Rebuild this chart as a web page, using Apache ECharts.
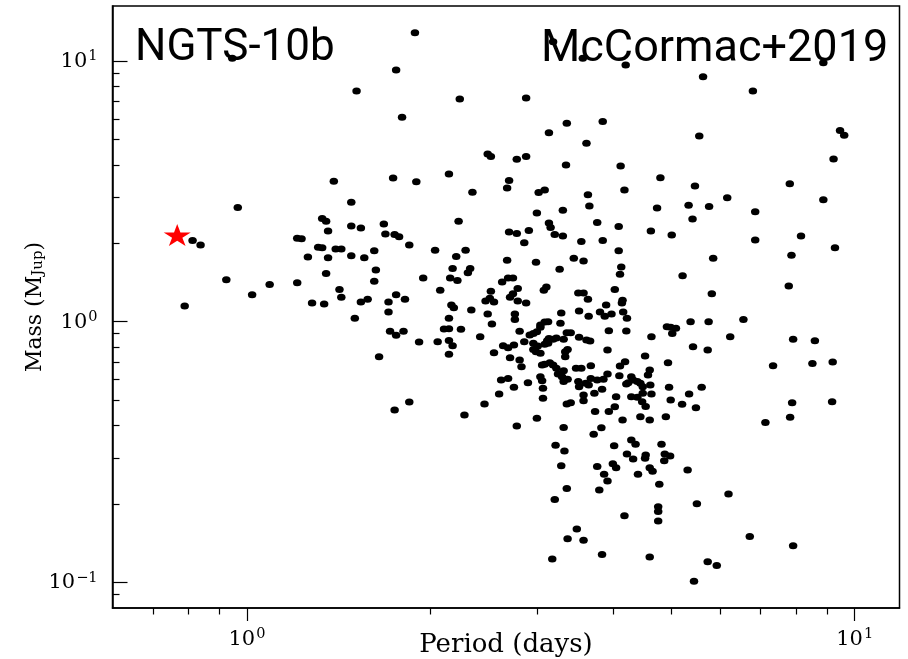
<!DOCTYPE html>
<html><head><meta charset="utf-8">
<script src="https://cdn.jsdelivr.net/npm/echarts@6/dist/echarts.min.js"></script>
<style>html,body{margin:0;padding:0;background:#fff}#c{width:908px;height:659px}</style>
</head><body><div id="c"></div>
<script>
// Orbital period (days) of each known planet
const periods = [1.89,1.76,1.515,2.24,0.946,3.19,3.57,4.20,5.63,6.80,2.88,8.88,
1.80,1.39,1.74,1.90,2.15,2.35,0.966,1.485,1.33,1.35,1.36,1.485,1.54,1.68,1.69,1.75,1.78,1.85,2.23,0.814,0.839,1.21,1.23,1.31,1.33,1.40,1.43,1.62,2.04,2.29,1.26,1.36,1.485,1.56,2.21,2.18,2.33,2.31,1.63,1.35,1.95,2.16,2.22,0.925,1.09,1.21,1.62,1.42,2.08,1.02,1.76,1.43,1.82,1.28,1.34,1.54,1.58,1.71,2.17,2.19,0.790,2.34,1.71,1.505,2.15,2.11,2.15,2.25,1.72,1.76,1.81,1.92,2.06,2.15,2.18,2.42,
1.65,2.15,1.75,1.85,2.28,
3.36,3.14,2.49,2.52,2.78,2.88,3.35,2.70,2.68,3.02,3.09,3.31,3.00,3.14,3.16,2.70,2.78,2.91,3.21,3.31,2.86,2.68,2.99,3.45,3.27,2.63,2.69,2.74,3.11,3.08,2.52,2.79,2.71,2.74,2.47,2.51,2.55,2.79,2.88,3.51,2.49,2.76,2.76,3.29,2.53,3.04,3.09,3.13,3.28,3.52,2.81,2.92,2.96,3.00,3.04,3.12,3.14,3.19,3.23,3.32,3.36,3.41,3.52,2.64,2.69,2.75,2.86,2.96,3.01,2.96,2.99,3.04,3.09,3.13,3.34,3.37,2.55,2.71,2.81,2.83,3.06,3.09,3.15,3.19,3.23,3.25,3.30,3.32,3.48,3.34,3.04,3.06,2.62,2.69,2.90,2.75,3.07,3.32,3.37,3.51,2.60,3.07,2.46,3.36,3.41,3.52,2.78,3.00,3.32,
3.85,3.62,5.55,4.12,4.79,5.46,3.64,4.18,3.66,4.73,5.33,5.76,5.41,3.77,4.09,4.62,5.00,3.55,3.85,4.09,3.58,5.85,4.13,4.11,5.21,4.03,5.82,3.58,3.64,3.90,4.14,4.15,3.65,3.81,3.88,3.98,4.16,4.22,3.94,4.21,4.63,4.91,4.98,5.08,5.01,5.37,5.75,3.62,3.67,3.92,5.42,5.73,4.52,4.19,4.11,4.93,3.55,3.68,4.60,4.57,3.92,4.10,4.29,4.32,4.39,3.68,3.77,3.86,3.61,3.65,4.21,4.24,4.44,4.48,4.61,4.95,5.60,3.73,3.84,4.05,4.29,4.39,4.48,4.63,5.34,3.58,3.58,4.47,4.53,4.98,5.20,5.48,4.03,3.94,3.74,4.44,4.15,4.60,4.89,3.83,
9.46,9.61,9.23,7.82,6.17,8.88,6.86,6.86,8.16,9.28,7.87,7.79,6.56,6.24,7.92,8.60,7.13,7.83,7.89,9.18,7.34,8.52,9.20,6.20,6.72,7.92,5.73,5.93,5.44,
3.72,3.22,3.33,3.29,3.36,3.21,4.02,4.29,4.36,4.22,4.32,4.53,4.52,4.81,4.87,4.97,4.86,3.77,3.87,3.92,3.80,4.00,4.05,4.40,4.60,4.65,4.77,5.31,5.50,4.75,4.75,4.75,4.18,3.49,3.37,3.58,3.18,3.84,4.60];
// Planet mass (Jupiter masses), same order
const masses = [12.85,9.25,7.68,7.15,10.25,11.87,10.25,9.66,8.71,7.68,7.22,9.86,
6.09,3.46,3.56,3.44,3.69,3.14,2.74,2.87,2.49,2.43,2.23,2.33,2.29,2.37,2.17,2.16,2.12,1.97,2.43,2.05,1.97,2.09,2.08,1.93,1.92,1.90,1.90,1.87,1.88,1.88,1.77,1.76,1.79,1.76,1.78,1.60,1.60,1.54,1.58,1.53,1.47,1.47,1.44,1.45,1.39,1.41,1.43,1.33,1.32,1.27,1.27,1.24,1.22,1.18,1.17,1.19,1.22,1.19,1.16,1.13,1.15,1.11,1.09,1.03,1.03,0.937,0.94,0.935,0.92,0.887,0.92,0.836,0.838,0.847,0.809,0.876,
0.734,0.750,0.458,0.492,0.439,
5.77,5.31,4.40,4.30,4.20,4.30,3.99,3.48,3.26,3.13,3.20,2.68,2.61,2.39,2.30,2.21,2.18,2.24,2.16,2.13,2.01,1.72,1.69,1.75,1.59,1.42,1.47,1.47,1.36,1.32,1.31,1.34,1.24,1.28,1.20,1.23,1.19,1.20,1.18,1.29,1.07,1.07,1.02,1.08,0.98,0.971,0.997,1.00,0.986,1.10,0.919,0.889,0.902,0.915,0.952,0.845,0.863,0.856,0.866,0.856,0.907,0.907,0.871,0.809,0.795,0.814,0.838,0.826,0.807,0.783,0.767,0.756,0.819,0.826,0.767,0.783,0.760,0.727,0.713,0.672,0.682,0.686,0.696,0.682,0.663,0.630,0.615,0.649,0.663,0.734,0.615,0.594,0.597,0.605,0.583,0.560,0.555,0.589,0.601,0.589,0.528,0.508,0.483,0.483,0.489,0.563,0.398,0.426,0.393,
5.86,4.84,5.16,3.96,3.57,3.32,3.07,3.20,2.78,2.73,2.80,2.77,2.48,2.40,2.32,2.23,2.15,2.03,2.05,1.87,1.71,1.75,1.62,1.52,1.50,1.33,1.28,1.29,1.22,1.16,1.18,1.21,1.05,1.09,1.05,1.07,1.09,1.03,0.924,0.921,0.876,0.957,0.952,0.943,0.902,1.00,1.00,0.851,0.843,0.779,0.802,0.779,0.738,0.702,0.676,0.696,0.663,0.678,0.653,0.624,0.630,0.621,0.615,0.597,0.589,0.606,0.597,0.601,0.580,0.572,0.577,0.583,0.580,0.563,0.572,0.560,0.560,0.531,0.550,0.515,0.515,0.513,0.531,0.528,0.528,0.523,0.497,0.493,0.473,0.501,0.482,0.468,0.472,0.452,0.452,0.432,0.420,0.420,0.432,0.392,
5.41,5.19,4.21,3.38,2.99,2.94,2.64,2.06,2.13,1.92,1.80,1.37,1.02,0.876,0.856,0.845,0.410,0.430,0.489,0.493,0.678,0.692,0.700,0.218,0.150,0.138,0.120,0.116,0.101,
0.370,0.336,0.319,0.280,0.229,0.208,0.334,0.352,0.339,0.311,0.297,0.308,0.299,0.339,0.311,0.305,0.293,0.278,0.260,0.245,0.226,0.285,0.275,0.260,0.275,0.267,0.238,0.270,0.200,0.195,0.187,0.172,0.180,0.160,0.147,0.145,0.123,0.128,0.125];
// Highlighted planet NGTS-10b
const targetName = 'NGTS-10b';
const targetPeriod = [0.768];
const targetMass = [2.15];
const creditText = 'McCormac+2019';
// Axis ranges and ticks
const xRange = [0.601, 11.85];
const yRange = [0.0797, 16.27];
const xMajorTicks = [1, 10];
const xMinorTicks = [0.7, 0.8, 0.9, 2, 3, 4, 5, 6, 7, 8, 9];
const yMajorTicks = [0.1, 1, 10];
const yMinorTicks = [0.09, 0.2, 0.3, 0.4, 0.5, 0.6, 0.7, 0.8, 0.9, 2, 3, 4, 5, 6, 7, 8, 9];
const xTitle = 'Period (days)';
const yTitle = ['Mass (M', 'Jup', ')'];

const serif = '"DejaVu Serif", serif';
function powLabel(v) {
  const e = Math.round(Math.log10(v));
  const s = e < 0 ? '\u2212' + (-e) : String(e);
  return '{b|10}{s|' + s + '}';
}
const labelRich = {
  b: { fontFamily: serif, fontSize: 21, color: '#000', verticalAlign: 'bottom', lineHeight: 22 },
  s: { fontFamily: serif, fontSize: 14.5, color: '#000', verticalAlign: 'bottom', padding: [0, 0, 8, 1], lineHeight: 15 }
};

const chart = echarts.init(document.getElementById('c'), null, { renderer: 'canvas' });
const pts = periods.map((p, i) => [p, masses[i]]);
const starPath = 'path://M0,-1L0.2245,-0.309L0.951,-0.309L0.363,0.118L0.588,0.809L0,0.382L-0.588,0.809L-0.363,0.118L-0.951,-0.309L-0.2245,-0.309Z';

const baseX = { type: 'log', logBase: 10, min: xRange[0], max: xRange[1], gridIndex: 0, position: 'bottom', splitLine: { show: false }, minorTick: { show: false }, minorSplitLine: { show: false }, nameMoveOverlap: false };
const baseY = { type: 'log', logBase: 10, min: yRange[0], max: yRange[1], gridIndex: 0, position: 'left', splitLine: { show: false }, minorTick: { show: false }, minorSplitLine: { show: false }, nameMoveOverlap: false };

chart.setOption({
  animation: false,
  backgroundColor: '#fff',
  grid: { left: 112.5, right: 8.5, top: 6, bottom: 51, show: true, borderColor: '#000', borderWidth: 1.5, backgroundColor: 'transparent', containLabel: false, outerBoundsMode: 'none' },
  xAxis: [
    Object.assign({}, baseX, {
      axisLine: { show: true, lineStyle: { color: '#000', width: 1.5 } },
      axisTick: { show: true, inside: false, length: 13, customValues: xMajorTicks, lineStyle: { color: '#000', width: 1.2 } },
      axisLabel: { show: true, customValues: xMajorTicks, formatter: powLabel, rich: labelRich, margin: 20 },
      name: xTitle, nameLocation: 'middle', nameGap: 24,
      nameTextStyle: { fontFamily: serif, fontSize: 26, color: '#000', verticalAlign: 'top' }
    }),
    Object.assign({}, baseX, {
      axisLine: { show: false },
      axisTick: { show: true, inside: false, length: 6.5, customValues: xMinorTicks, lineStyle: { color: '#000', width: 1.2 } },
      axisLabel: { show: false }
    })
  ],
  yAxis: [
    Object.assign({}, baseY, {
      axisLine: { show: true, lineStyle: { color: '#000', width: 1.5 } },
      axisTick: { show: true, inside: true, length: 15, customValues: yMajorTicks, lineStyle: { color: '#000', width: 1.2 } },
      axisLabel: { show: true, customValues: yMajorTicks, formatter: powLabel, rich: labelRich, margin: 15 },
      name: '{a|' + yTitle[0] + '}{sub|' + yTitle[1] + '}{a|' + yTitle[2] + '}',
      nameLocation: 'middle', nameGap: 62, nameRotate: 90,
      nameTextStyle: { rich: {
        a: { fontFamily: serif, fontSize: 22, color: '#000', verticalAlign: 'top', lineHeight: 26 },
        sub: { fontFamily: serif, fontSize: 15, color: '#000', verticalAlign: 'top', lineHeight: 26, padding: [6, 0, 0, 0] }
      } }
    }),
    Object.assign({}, baseY, {
      axisLine: { show: false },
      axisTick: { show: true, inside: true, length: 7, customValues: yMinorTicks, lineStyle: { color: '#000', width: 1.2 } },
      axisLabel: { show: false }
    })
  ],
  series: [
    { type: 'scatter', xAxisIndex: 0, yAxisIndex: 0, data: pts, symbol: 'circle', symbolSize: [8.5, 7], itemStyle: { color: '#000', opacity: 1 }, silent: true, z: 3 },
    { type: 'scatter', xAxisIndex: 0, yAxisIndex: 0, data: targetPeriod.map((p, i) => [p, targetMass[i]]), symbol: starPath, symbolSize: [27, 22], itemStyle: { color: '#ff0000', opacity: 1 }, silent: true, z: 4 }
  ],
  graphic: [
    { type: 'text', left: 135, top: 27, z: 10, style: { text: targetName, font: '44px Roboto', fill: '#000' } },
    { type: 'text', left: 541, top: 27, z: 10, style: { text: creditText, font: '45px Roboto', fill: '#000' } }
  ]
});
</script>
</body></html>
